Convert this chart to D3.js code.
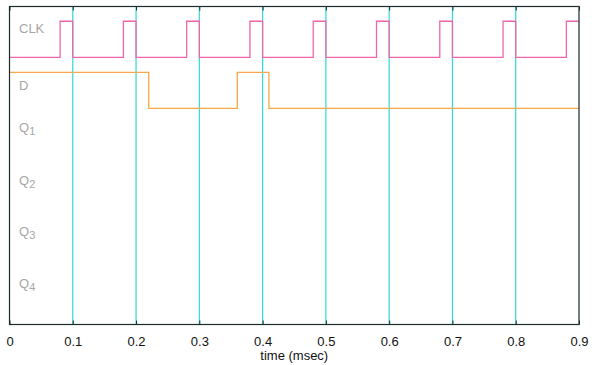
<!DOCTYPE html>
<html>
<head>
<meta charset="utf-8">
<script src="https://cdn.jsdelivr.net/npm/d3@7"></script>
<style>
body { margin: 0; background: #fff; }
text { font-family: "Liberation Sans", Arial, sans-serif; }
</style>
</head>
<body>
<script>
var width = 592,
    height = 365;

var margin = {top: 6.5, right: 13, bottom: 40.5, left: 9.5};

// clock edges (time in msec, level 0/1)
var clkTimes = [0, 0.08, 0.1, 0.18, 0.2, 0.28, 0.3, 0.38, 0.4, 0.48, 0.5, 0.58, 0.6, 0.68, 0.7, 0.78, 0.8, 0.88, 0.9];
var clkLevels = [0, 1, 0, 1, 0, 1, 0, 1, 0, 1, 0, 1, 0, 1, 0, 1, 0, 1, 1];

var dTimes = [0, 0.22, 0.36, 0.41, 0.9];
var dLevels = [1, 0, 1, 0, 0];

var ticks = [0, 0.1, 0.2, 0.3, 0.4, 0.5, 0.6, 0.7, 0.8, 0.9];
var gridLines = [0.1, 0.2, 0.3, 0.4, 0.5, 0.6, 0.7, 0.8];

var labels = ['CLK', 'D', 'Q1', 'Q2', 'Q3', 'Q4'];
var labelPos = [8.22, 6.63, 5.47, 4.0, 2.58, 1.14];

var clkBase = 7.42,
    dBase = 6.0;

var w = width - margin.left - margin.right,
    h = height - margin.top - margin.bottom;

var x = d3.scaleLinear().domain([0, 0.9]).range([0, w]);
var y = d3.scaleLinear().domain([0, 8.83]).range([h, 0]);

var svg = d3.select('body')
    .append('svg')
    .attr('width', width)
    .attr('height', height)
    .append('g')
    .attr('transform', 'translate(' + margin.left + ',' + margin.top + ')');

// cyan grid lines
svg.selectAll('.grid')
    .data(gridLines)
    .enter()
    .append('line')
    .attr('x1', function (d) { return x(d); })
    .attr('x2', function (d) { return x(d); })
    .attr('y1', 0)
    .attr('y2', h)
    .attr('stroke', '#2ed8d8')
    .attr('stroke-width', 1.2);

var line = d3.line()
    .x(function (d) { return x(d[0]); })
    .y(function (d) { return y(d[1]); })
    .curve(d3.curveStepAfter);

var clkData = clkTimes.map(function (t, i) { return [t, clkBase + clkLevels[i]]; });
var dData = dTimes.map(function (t, i) { return [t, dBase + dLevels[i]]; });

svg.append('path')
    .datum(dData)
    .attr('d', line)
    .attr('fill', 'none')
    .attr('stroke', '#f7a84a')
    .attr('stroke-width', 1.3);

svg.append('path')
    .datum(clkData)
    .attr('d', line)
    .attr('fill', 'none')
    .attr('stroke', '#f065aa')
    .attr('stroke-width', 1.3);

// frame
svg.append('rect')
    .attr('x', 0)
    .attr('y', 0)
    .attr('width', w)
    .attr('height', h)
    .attr('fill', 'none')
    .attr('stroke', '#1c2b2b')
    .attr('stroke-width', 1.2);

// axes (ticks inside, top and bottom)
var xAxis = d3.axisBottom(x).tickValues(ticks).tickSizeInner(-4).tickSizeOuter(0).tickPadding(12)
    .tickFormat(function (d) { return d === 0 ? '0' : d3.format('.1f')(d); });

var gx = svg.append('g')
    .attr('transform', 'translate(0,' + h + ')')
    .call(xAxis);
gx.select('.domain').remove();
gx.selectAll('line').attr('stroke', '#1c2b2b');
gx.selectAll('text').attr('font-size', 13).attr('fill', '#111').attr('font-family', '"Liberation Sans", Arial, sans-serif');

var gTop = svg.append('g')
    .call(d3.axisTop(x).tickValues(ticks).tickSizeInner(-4).tickSizeOuter(0).tickFormat(''));
gTop.select('.domain').remove();
gTop.selectAll('line').attr('stroke', '#1c2b2b');

svg.append('text')
    .attr('x', w / 2)
    .attr('y', h + 35.5)
    .attr('text-anchor', 'middle')
    .attr('font-size', 13)
    .attr('fill', '#111')
    .text('time (msec)');

// signal labels
var lab = svg.selectAll('.lab')
    .data(labels)
    .enter()
    .append('text')
    .attr('x', 9.5)
    .attr('y', function (d, i) { return y(labelPos[i]); })
    .attr('dy', '0.35em')
    .attr('font-size', 13)
    .attr('fill', '#a6a6a6');

lab.each(function (d) {
    var t = d3.select(this);
    if (d.charAt(0) === 'Q') {
        t.append('tspan').text('Q');
        t.append('tspan').attr('dy', '0.3em').attr('font-size', 11).text(d.slice(1));
    } else {
        t.text(d);
    }
});
</script>
</body>
</html>
